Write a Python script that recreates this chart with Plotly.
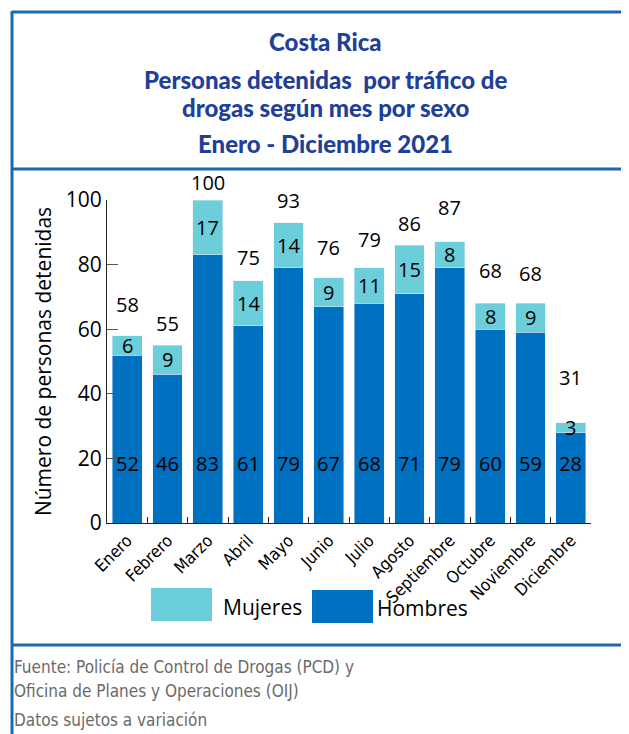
import plotly.graph_objects as go

# datos
meses = ["Enero", "Febrero", "Marzo", "Abril", "Mayo", "Junio", "Julio",
         "Agosto", "Septiembre", "Octubre", "Noviembre", "Diciembre"]
hombres = [52, 46, 83, 61, 79, 67, 68, 71, 79, 60, 59, 28]
mujeres = [6, 9, 17, 14, 14, 9, 11, 15, 8, 8, 9, 3]
totales = [h + m for h, m in zip(hombres, mujeres)]

COLOR_H = "#0070C0"
COLOR_M = "#6CCDDB"
AZUL_TIT = "#213F96"
BORDE = "#1C6AAE"
NARROW = "Liberation Sans Narrow, DejaVu Sans Condensed, sans-serif"
SANS = "Open Sans, Noto Sans, sans-serif"

# la pagina tiene 8px de margen en el body
OFF = 8
W, H = 629 - OFF, 734 - OFF
# area de trazado en pixeles de la pagina
X0, X1, Y0, Y1 = 107, 591, 200, 523
L, R, T, B = X0 - OFF, W - (X1 - OFF), Y0 - OFF, H - (Y1 - OFF)


def px(x):
    return (x - X0) / (X1 - X0)


def py(y):
    return (Y1 - y) / (Y1 - Y0)


fig = go.Figure()
fig.add_trace(go.Bar(x=meses, y=hombres, name="Hombres", marker_color=COLOR_H,
                     showlegend=False, hoverinfo="x+y"))
fig.add_trace(go.Bar(x=meses, y=mujeres, name="Mujeres", marker_color=COLOR_M,
                     showlegend=False, hoverinfo="x+y"))

# etiquetas de valores
lift_total = [31, 22, 18, 23, 22, 30, 28, 22, 34, 33, 30, 45]  # px sobre la barra
ann = []
for i, mes in enumerate(meses):
    ann.append(dict(x=mes, y=0, yshift=60, text=str(hombres[i]), showarrow=False,
                    font=dict(size=20, color="black", family=SANS), yanchor="middle"))
    ann.append(dict(x=mes, y=hombres[i] + mujeres[i] / 2, text=str(mujeres[i]),
                    showarrow=False, yanchor="middle",
                    font=dict(size=20, color="black", family=SANS)))
    ann.append(dict(x=mes, y=totales[i], yshift=lift_total[i], text=str(totales[i]),
                    showarrow=False, yanchor="middle",
                    font=dict(size=20, color="black", family=SANS)))

# titulo
titulo = [("Costa Rica", 42), ("Personas detenidas  por tráfico de", 80),
          ("drogas según mes por sexo", 107), ("Enero - Diciembre 2021", 143)]
for txt, yy in titulo:
    ann.append(dict(xref="paper", yref="paper", x=px(325), y=py(yy), text=txt,
                    showarrow=False, xanchor="center", yanchor="middle",
                    font=dict(size=24, color=AZUL_TIT, family="Lato, sans-serif", weight=900)))

# leyenda manual
ann.append(dict(xref="paper", yref="paper", x=px(221), y=py(607), text="Mujeres",
                showarrow=False, xanchor="left", yanchor="middle",
                font=dict(size=21, color="black", family=SANS)))
ann.append(dict(xref="paper", yref="paper", x=px(375), y=py(608), text="Hombres",
                showarrow=False, xanchor="left", yanchor="middle",
                font=dict(size=21, color="black", family=SANS)))

# pie
pie = [("Fuente: Policía de Control de Drogas (PCD) y", 667),
       ("Oficina de Planes y Operaciones (OIJ)", 691),
       ("Datos sujetos a variación", 720)]
for txt, yy in pie:
    ann.append(dict(xref="paper", yref="paper", x=px(12), y=py(yy), text=txt,
                    showarrow=False, xanchor="left", yanchor="middle",
                    font=dict(size=17, color="#6a6a6a", family=NARROW)))

shapes = [
    dict(type="rect", xref="paper", yref="paper", x0=px(151), x1=px(212),
         y0=py(621), y1=py(588), fillcolor=COLOR_M, line_width=0),
    dict(type="rect", xref="paper", yref="paper", x0=px(312), x1=px(373),
         y0=py(623), y1=py(590), fillcolor=COLOR_H, line_width=0),
    # marco
    dict(type="line", xref="paper", yref="paper", x0=px(12), x1=px(640),
         y0=py(12), y1=py(12), line=dict(color=BORDE, width=3)),
    dict(type="line", xref="paper", yref="paper", x0=px(12), x1=px(12),
         y0=py(11), y1=py(740), line=dict(color=BORDE, width=3)),
    dict(type="line", xref="paper", yref="paper", x0=px(12), x1=px(640),
         y0=py(169), y1=py(169), line=dict(color=BORDE, width=3)),
    dict(type="line", xref="paper", yref="paper", x0=px(12), x1=px(640),
         y0=py(645), y1=py(645), line=dict(color=BORDE, width=3)),
]

fig.update_layout(
    width=W, height=H,
    margin=dict(l=L, r=R, t=T, b=B),
    barmode="stack", bargap=0.257,
    plot_bgcolor="white", paper_bgcolor="white",
    annotations=ann, shapes=shapes,
    xaxis=dict(showline=True, linecolor="#222", linewidth=1, ticks="inside",
               tickson="boundaries", ticklen=6, tickcolor="#222", tickangle=-45,
               tickfont=dict(size=17, color="black", family=NARROW), showgrid=False),
    yaxis=dict(range=[0, 100], tickvals=[0, 20, 40, 60, 80, 100], showline=True,
               linecolor="#222", linewidth=1, ticks="inside", ticklen=11,
               tickcolor="#555", showgrid=False, zeroline=False,
               tickfont=dict(size=21, color="black", family=SANS),
               title=dict(text="Número de personas detenidas", standoff=8,
                          font=dict(size=21, color="black", family=SANS))),
)

fig.write_html("out.html")
